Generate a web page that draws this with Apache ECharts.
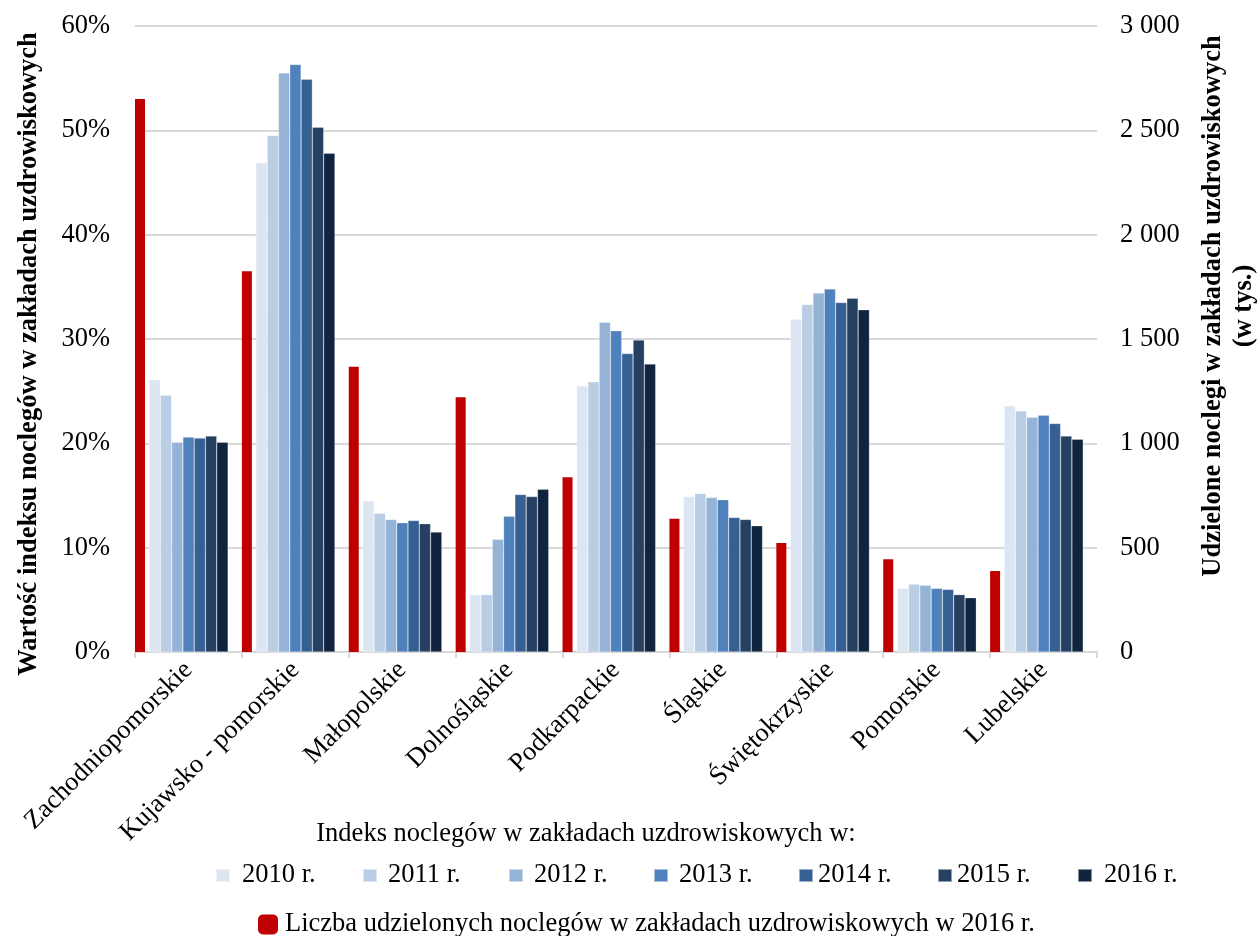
<!DOCTYPE html>
<html>
<head>
<meta charset="utf-8">
<script src="https://cdn.jsdelivr.net/npm/echarts@6/dist/echarts.min.js"></script>
<style>
html, body { margin: 0; padding: 0; background: #fff; }
#chart { width: 1258px; height: 936px; }
</style>
</head>
<body>
<div id="chart"></div>
<script>
// regiony
var categories = ['Zachodniopomorskie', 'Kujawsko - pomorskie', 'Małopolskie', 'Dolnośląskie',
	'Podkarpackie', 'Śląskie', 'Świętokrzyskie', 'Pomorskie', 'Lubelskie'];

// liczba udzielonych noclegow 2016 (w tys.) - prawa os
var noclegi2016 = [2650, 1825, 1367, 1221, 837, 638, 522, 445, 388];

// indeks noclegow (%) - lewa os
var idx2010 = [26.1, 46.9, 14.5, 5.5, 25.5, 14.9, 31.9, 6.1, 23.6];
var idx2011 = [24.6, 49.5, 13.3, 5.5, 25.9, 15.2, 33.3, 6.5, 23.1];
var idx2012 = [20.1, 55.5, 12.7, 10.8, 31.6, 14.8, 34.4, 6.4, 22.5];
var idx2013 = [20.6, 56.3, 12.4, 13.0, 30.8, 14.6, 34.8, 6.1, 22.7];
var idx2014 = [20.5, 54.9, 12.6, 15.1, 28.6, 12.9, 33.5, 6.0, 21.9];
var idx2015 = [20.7, 50.3, 12.3, 14.9, 29.9, 12.7, 33.9, 5.5, 20.7];
var idx2016 = [20.1, 47.8, 11.5, 15.6, 27.6, 12.1, 32.8, 5.2, 20.4];

var yearNames = ['2010 r.', '2011 r.', '2012 r.', '2013 r.', '2014 r.', '2015 r.', '2016 r.'];
var yearData = [idx2010, idx2011, idx2012, idx2013, idx2014, idx2015, idx2016];
var yearColors = ['#dce6f2', '#b9cde5', '#95b3d7', '#4f81bd', '#376092', '#254061', '#10243f'];
var redName = 'Liczba udzielonych noclegów w zakładach uzdrowiskowych w 2016 r.';

var FONT = '"Liberation Serif", "Times New Roman", serif';
var FS = 26.5;

var series = [];
series.push({
	name: redName,
	type: 'bar',
	yAxisIndex: 1,
	barWidth: 10,
	barGap: 0,
	itemStyle: { color: '#c00000' },
	data: noclegi2016
});
// odstep miedzy czerwonym a niebieskimi
series.push({ name: 'sp1', type: 'bar', barWidth: 4, barGap: 0, data: [] });
for (var i = 0; i < yearNames.length; i++) {
	series.push({
		name: yearNames[i],
		type: 'bar',
		yAxisIndex: 0,
		barWidth: 11.3,
		barGap: 0,
		itemStyle: { color: yearColors[i], borderColor: 'rgba(255,255,255,0.5)', borderWidth: 0.5 },
		data: yearData[i]
	});
}
series.push({ name: 'sp2', type: 'bar', barWidth: 13.8, barGap: 0, data: [] });

// legenda - kazdy rok osobno, zeby trafic w polozenie
var legIconX = [215, 362, 508, 653, 798, 937, 1077];
var legTextPad = [7, 6, 6, 6, 0, 0, 7];
var legends = [];
for (var j = 0; j < yearNames.length; j++) {
	legends.push({
		data: [yearNames[j]],
		left: legIconX[j], top: 862,
		padding: 0,
		itemWidth: 14, itemHeight: 13,
		icon: 'rect',
		textStyle: { fontFamily: FONT, fontSize: FS, color: '#000', padding: [0, 0, 0, legTextPad[j]] }
	});
}
legends.push({
	data: [redName],
	left: 258, top: 911,
	padding: 0,
	itemWidth: 20, itemHeight: 20,
	icon: 'roundRect',
	textStyle: { fontFamily: FONT, fontSize: FS, color: '#000', padding: [0, 0, 0, 2] }
});

var chart = echarts.init(document.getElementById('chart'));
var option = {
	animation: false,
	textStyle: { fontFamily: FONT },
	grid: { left: 135, right: 161, top: 26, bottom: 284 },
	title: {
		text: 'Indeks noclegów w zakładach uzdrowiskowych w:',
		left: 581, top: 816, textAlign: 'center',
		textStyle: { fontFamily: FONT, fontSize: FS, fontWeight: 'normal', color: '#000' }
	},
	legend: legends,
	xAxis: {
		type: 'category',
		data: categories,
		axisLine: { lineStyle: { color: '#d9d9d9', width: 2 } },
		axisTick: { show: true, length: 6, lineStyle: { color: '#d9d9d9', width: 2 } },
		axisLabel: { rotate: 45, fontSize: FS, color: '#000', fontFamily: FONT, margin: 14, interval: 0 }
	},
	yAxis: [{
		type: 'value',
		min: 0, max: 60, interval: 10,
		axisLabel: { formatter: '{value}%', fontSize: FS, color: '#000', fontFamily: FONT, margin: 25 },
		splitLine: { lineStyle: { color: '#d9d9d9', width: 2 } },
		axisLine: { show: false }, axisTick: { show: false }
	}, {
		type: 'value',
		min: 0, max: 3000, interval: 500,
		axisLabel: {
			formatter: function (v) {
				return v >= 1000 ? Math.floor(v / 1000) + ' ' + String(v % 1000).padStart(3, '0') : String(v);
			},
			fontSize: FS, color: '#000', fontFamily: FONT, margin: 23
		},
		splitLine: { show: false },
		axisLine: { show: false }, axisTick: { show: false }
	}],
	graphic: [{
		type: 'text',
		x: 29, y: 354, rotation: Math.PI / 2,
		style: {
			text: 'Wartość indeksu noclegów w zakładach uzdrowiskowych',
			font: 'bold ' + FS + 'px ' + FONT, fill: '#000', align: 'center', verticalAlign: 'middle'
		}
	}, {
		type: 'text',
		x: 1229, y: 306, rotation: Math.PI / 2,
		style: {
			text: 'Udzielone noclegi w zakładach uzdrowiskowych\n(w tys.)',
			font: 'bold ' + FS + 'px ' + FONT, fill: '#000', align: 'center', verticalAlign: 'middle',
			lineHeight: 31
		}
	}],
	series: series
};
chart.setOption(option);
</script>
</body>
</html>
